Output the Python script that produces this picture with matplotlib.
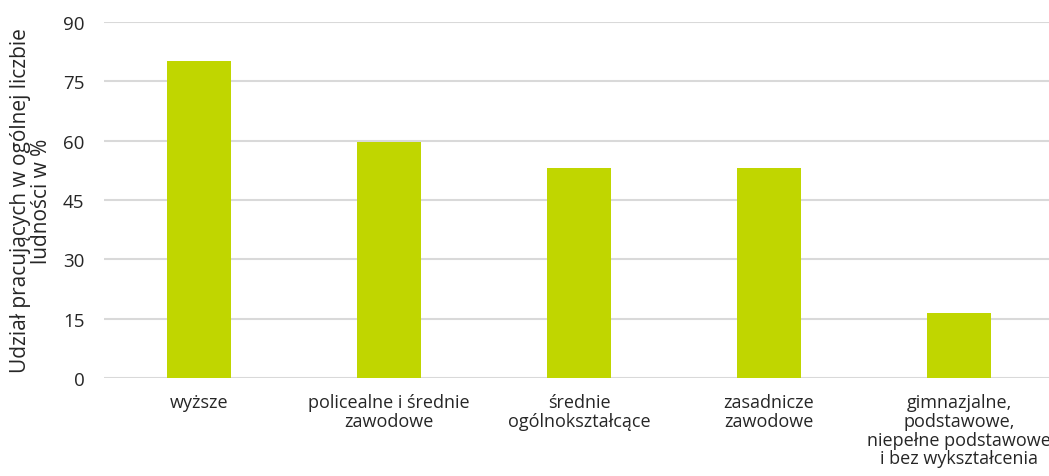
import matplotlib
matplotlib.use('Agg')
import matplotlib.pyplot as plt

plt.rcParams['font.family'] = ['Open Sans', 'DejaVu Sans']

categories = ['wyższe', 'policealne i średnie\nzawodowe', 'średnie\nogólnokształcące',
              'zasadnicze\nzawodowe',
              'gimnazjalne,\npodstawowe,\nniepełne podstawowe\ni bez wykształcenia']
values = [80.1, 59.7, 53.1, 53.2, 16.4]
yticks = [0, 15, 30, 45, 60, 75, 90]

fig = plt.figure(figsize=(10.49, 4.77), dpi=100)
ax = fig.add_axes([104 / 1049, 1 - 379 / 477, 950 / 1049, 356 / 477])

x = range(len(categories))
ax.bar(x, values, width=0.337, color='#c0d600', zorder=3)

ax.set_xlim(-0.5, len(categories) - 0.5)
ax.set_ylim(0, 90)
ax.set_yticks(yticks)
ax.set_xticks(list(x))
ax.set_xticklabels(categories, fontsize=13, color='#262626', linespacing=1.05)
ax.tick_params(axis='y', labelsize=13.5, colors='#262626', length=0, pad=14)
ax.tick_params(axis='x', length=0, pad=11)
ax.grid(axis='y', color='#d9d9d9', linewidth=1.5, zorder=0)
for s in ax.spines.values():
    s.set_visible(False)

ax.set_ylabel('Udział pracujących w ogólnej liczbie\nludności w %', fontsize=15,
              color='#262626', linespacing=1.0, labelpad=8)

fig.savefig('out.png', dpi=100)
